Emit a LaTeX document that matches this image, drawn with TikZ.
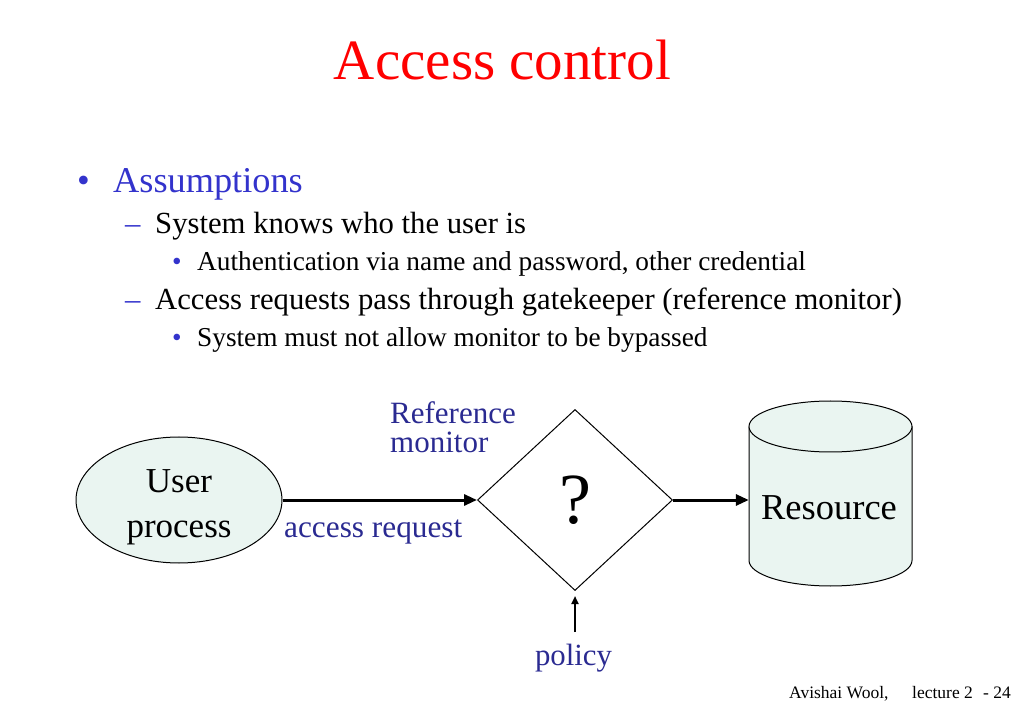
\documentclass[tikz,border=0pt]{standalone}
\usepackage{fontspec}
\setmainfont{Liberation Serif}
\usetikzlibrary{shapes.geometric,arrows.meta}
\definecolor{titlered}{RGB}{255,0,0}
\definecolor{lblue}{RGB}{51,51,204}
\definecolor{dblue}{RGB}{42,42,145}
\definecolor{mint}{RGB}{234,245,241}
\newcommand{\fsz}[1]{\fontsize{#1}{#1}\selectfont}
\begin{document}
\begin{tikzpicture}[x=1pt,y=-1pt,
  txt/.style={inner sep=0pt, anchor=base west},
  ctr/.style={inner sep=0pt, anchor=base},
  lvlone/.style={font=\fsz{36.3}},
  lvltwo/.style={font=\fsz{30.7}},
  lvlthree/.style={font=\fsz{27.3}},
  lbl/.style={text=dblue, font=\fsz{31}},
  bigarrow/.style={line width=3pt, -{Triangle[length=13pt,width=11pt]}},
  smallarrow/.style={line width=2pt, -{Triangle[length=8pt,width=7pt]}},
  outline/.style={draw=black, line width=1pt}]
\useasboundingbox (0,0) rectangle (1023,708);

% title
\node[ctr, text=titlered, font=\fsz{57}] (title) at (502.5,80) {Access control};

% bullet list
\node[ctr, text=lblue, lvlone] (b1) at (83.5,193) {•};
\node[txt, text=lblue, lvlone] (l1) at (113,193) {Assumptions};
\node[txt, text=lblue, lvltwo] (d1) at (125,234) {–};
\node[txt, lvltwo] (l2a) at (155,234) {System knows who the user is};
\node[ctr, text=lblue, lvlthree] (b2) at (177,271) {•};
\node[txt, lvlthree] (l3a) at (197,271) {Authentication via name and password, other credential};
\node[txt, text=lblue, lvltwo] (d2) at (125,310) {–};
\node[txt, lvltwo] (l2b) at (155,310) {Access requests pass through gatekeeper (reference monitor)};
\node[ctr, text=lblue, lvlthree] (b3) at (177,347) {•};
\node[txt, lvlthree] (l3b) at (197,347) {System must not allow monitor to be bypassed};

% user process
\node[ellipse, outline, fill=mint, minimum width=206pt, minimum height=126pt, inner sep=0pt] (user) at (179,500) {};
\node[ctr, font=\fsz{35}] (usert1) at (179,492) {User};
\node[ctr, font=\fsz{35}] (usert2) at (179,537) {process};

% reference monitor
\node[diamond, outline, minimum width=195pt, minimum height=181pt, inner sep=0pt, font=\fsz{72}] (dia) at (575,500) {?};
\node[txt, lbl] (ref1) at (390,424) {Reference};
\node[txt, lbl] (ref2) at (390,453) {monitor};

% resource cylinder
\fill[mint] (830.5,560.5) ellipse (81.5pt and 25.5pt);
\fill[mint] (749,426.5) rectangle (912,560.5);
\draw[line width=1pt] (749,426.5) -- (749,560.5) arc (180:360:81.5pt and 25.5pt) -- (912,426.5);
\draw[outline, fill=mint] (830.5,426.5) ellipse (81.5pt and 25.5pt);
\node[inner sep=0pt, minimum width=163pt, minimum height=185pt] (res) at (830.5,493.5) {};
\node[ctr, font=\fsz{36.5}] (restxt) at (829,519) {Resource};

% connectors
\draw[bigarrow] (user.east) -- (dia.west);
\node[txt, lbl, font=\fsz{31.3}] (acc) at (284,537) {access request};
\draw[bigarrow] (dia.east) -- (res.west |- dia.east);
\node[ctr, lbl, font=\fsz{30.8}] (policy) at (573.5,665) {policy};
\coordinate (polstart) at (575,632);
\draw[smallarrow, shorten >=5pt] (polstart) -- (dia.south);

% footer
\node[txt, font=\fsz{17.5}] (foot1) at (789,698) {Avishai Wool,};
\node[txt, font=\fsz{17.5}] (foot2) at (912,698) {lecture 2};
\node[txt, font=\fsz{17.5}] (foot3) at (983,698) {- 24};
\end{tikzpicture}
\end{document}
